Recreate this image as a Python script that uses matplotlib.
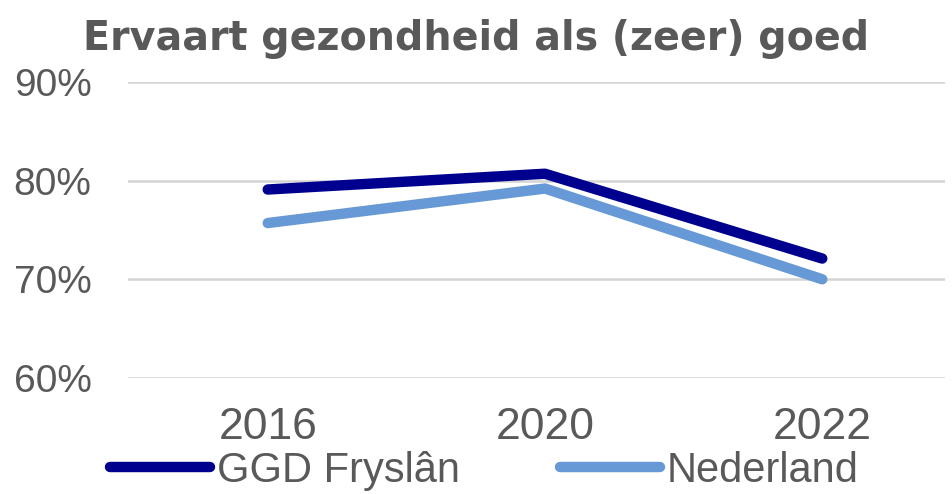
import numpy as np
import matplotlib
matplotlib.use("Agg")
import matplotlib.pyplot as plt

plt.rcParams['font.family'] = ['Liberation Sans', 'DejaVu Sans']

jaren = ['2016', '2020', '2022']
ggd_fryslan = [79.1, 80.7, 72.1]
nederland = [75.7, 79.2, 70.0]
y_ticks = [60, 70, 80, 90]

fig = plt.figure(figsize=(9.53, 4.94), dpi=100)
ax = fig.add_axes([0.134, 0.235, 0.858, 0.599])

x = np.arange(len(jaren))
ax.plot(x, ggd_fryslan, color='#00008F', lw=7.5, solid_capstyle='round',
        solid_joinstyle='round', label='GGD Fryslân', zorder=3)
ax.plot(x, nederland, color='#6699D5', lw=7.5, solid_capstyle='round',
        solid_joinstyle='round', label='Nederland', zorder=2)

ax.set_ylim(60, 90)
ax.set_xlim(-0.505, 2.444)
ax.set_yticks(y_ticks)
ax.set_yticklabels([f'{v}%' for v in y_ticks])
ax.set_xticks(x)
ax.set_xticklabels(jaren)
ax.grid(axis='y', color='#D4D4D4', lw=1.8)
ax.set_axisbelow(True)
for s in ax.spines.values():
    s.set_visible(False)
ax.tick_params(length=0, labelcolor='#595959')
ax.tick_params(axis='y', pad=26, labelsize=28)
ax.tick_params(axis='x', pad=21, labelsize=32)

fig.text(0.5, 0.922, 'Ervaart gezondheid als (zeer) goed', ha='center', va='center',
         fontsize=28.5, fontweight='bold', color='#595959',
         family=['DejaVu Sans'])

fig.legend(loc='center', bbox_to_anchor=(0.508, 0.047), ncol=2, frameon=False,
           fontsize=30, labelcolor='#595959', handlelength=2.4, handletextpad=0.17,
           columnspacing=2.4, borderpad=0, borderaxespad=0)

fig.savefig('out.png', dpi=100)
